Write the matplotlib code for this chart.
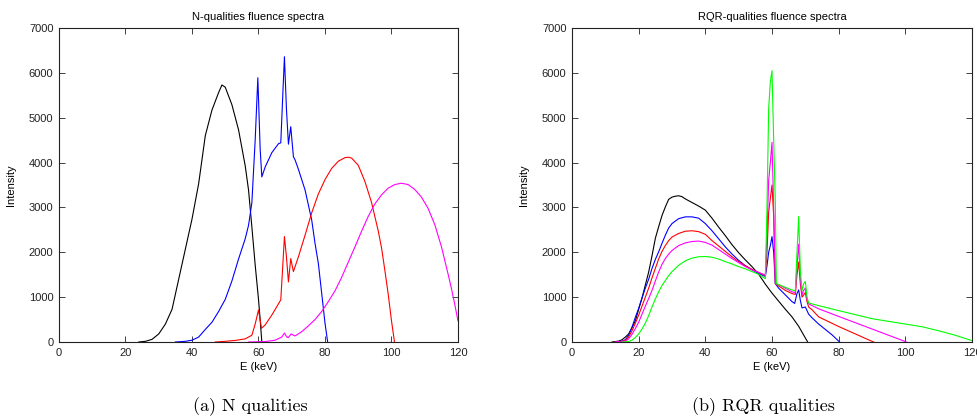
import matplotlib
matplotlib.use("Agg")
import matplotlib.pyplot as plt
from matplotlib.ticker import MultipleLocator

# ---------------- N qualities (left) ----------------
n60_E = [24, 26, 28, 30, 32, 34, 36, 38, 40, 42, 44, 46, 48, 49, 50, 52, 54, 56, 57, 58, 59, 60, 60.5, 61]
n60_I = [0, 15, 60, 180, 400, 730, 1400, 2070, 2740, 3530, 4600, 5170, 5560, 5730, 5680, 5290, 4730, 3930,
         3390, 2570, 1720, 950, 500, 0]

n80_E = [35, 38, 40, 42, 44, 46, 48, 50, 52, 54, 56, 57, 58, 59, 59.8, 60.5, 61, 62, 64, 66, 66.7, 67.3, 67.8,
         68.4, 69, 69.7, 70.5, 71, 72, 74, 76, 77, 78, 79, 80, 80.8]
n80_I = [0, 15, 40, 110, 280, 440, 680, 950, 1360, 1850, 2300, 2600, 3100, 4500, 5890, 4300, 3680, 3900, 4220,
         4420, 4440, 5500, 6360, 5200, 4410, 4800, 4130, 4060, 3850, 3390, 2720, 2200, 1750, 1090, 420, 0]

n100_E = [47, 50, 53, 56, 58, 59, 60, 60.9, 62, 64, 66, 66.7, 67.3, 67.8, 68.4, 69, 69.7, 70.5, 72, 74, 76, 78,
          80, 82, 84, 86, 87, 88, 90, 92, 94, 96, 97, 98, 99, 100, 100.9]
n100_I = [0, 15, 35, 70, 150, 400, 715, 305, 380, 600, 850, 940, 1700, 2350, 1900, 1340, 1860, 1570, 1900,
          2380, 2880, 3300, 3620, 3870, 4030, 4110, 4120, 4100, 3940, 3580, 3110, 2480, 2100, 1600, 1070, 470, 0]

n120_E = [57, 62, 65, 67, 67.8, 68.5, 69, 69.8, 71, 73, 75, 77, 79, 81, 83, 85, 87, 89, 91, 93, 95, 97, 99, 101,
          103, 105, 107, 109, 111, 113, 115, 117, 118, 119, 120]
n120_I = [0, 10, 40, 110, 200, 110, 100, 180, 135, 230, 360, 500, 680, 900, 1140, 1440, 1780, 2120, 2470, 2800,
          3080, 3280, 3430, 3510, 3540, 3510, 3400, 3230, 2980, 2620, 2130, 1520, 1200, 850, 470]

# ---------------- RQR qualities (right) ----------------
rqr_k_E = [12, 14, 15, 16, 17, 18, 19, 20, 21, 22, 23, 24, 25, 26, 27, 28, 29, 30, 31, 32, 33, 34, 36, 38, 40,
           42, 44, 46, 48, 50, 52, 54, 56, 58, 60, 62, 64, 66, 68, 70, 70.7]
rqr_k_I = [0, 20, 50, 110, 180, 320, 470, 730, 980, 1270, 1560, 1920, 2310, 2570, 2820, 3010, 3180, 3230, 3250,
           3260, 3240, 3190, 3110, 3030, 2940, 2760, 2560, 2370, 2170, 1990, 1830, 1680, 1510, 1290, 1090, 910,
           730, 560, 350, 90, 0]

rqr_b_E = [13, 15, 16, 17, 18, 19, 20, 21, 22, 23, 24, 25, 26, 27, 28, 29, 30, 32, 34, 36, 38, 40, 42, 44, 46,
           48, 50, 52, 54, 56, 58, 58.5, 59, 59.5, 60, 60.5, 61, 62, 64, 66, 66.8, 67.5, 68, 68.5, 69, 70, 71,
           72, 74, 76, 78, 80, 80.3]
rqr_b_I = [0, 20, 50, 150, 330, 550, 750, 980, 1200, 1400, 1640, 1840, 2010, 2200, 2380, 2540, 2640, 2750, 2790,
           2790, 2760, 2640, 2480, 2300, 2120, 1960, 1820, 1700, 1610, 1530, 1460, 1700, 2000, 2150, 2350, 2000,
           1300, 1200, 1050, 900, 860, 1080, 1160, 930, 760, 780, 620, 540, 400, 280, 160, 20, 0]

rqr_r_E = [13, 15, 16, 17, 18, 19, 20, 21, 22, 23, 24, 25, 26, 27, 28, 29, 30, 32, 34, 36, 38, 40, 42, 44, 46,
           48, 50, 52, 54, 56, 58, 58.5, 59, 59.5, 60, 60.5, 61, 62, 64, 66, 67, 67.5, 68, 68.5, 69, 69.5, 70,
           70.5, 71, 72, 74, 80, 85, 90, 90.5]
rqr_r_I = [0, 15, 40, 110, 250, 420, 600, 800, 1000, 1200, 1430, 1640, 1850, 2020, 2150, 2260, 2340, 2420, 2470,
           2480, 2460, 2400, 2260, 2140, 2020, 1900, 1790, 1700, 1620, 1550, 1480, 2000, 2900, 3200, 3500, 2800,
           1300, 1250, 1150, 1080, 1060, 1500, 1780, 1300, 1000, 1050, 1100, 900, 780, 720, 560, 345, 180, 15, 0]

rqr_m_E = [13, 16, 17, 18, 19, 20, 21, 22, 23, 24, 25, 26, 27, 28, 29, 30, 32, 34, 36, 38, 40, 42, 44, 46, 48,
           50, 52, 54, 56, 58, 58.5, 59, 59.5, 60, 60.5, 61, 62, 64, 66, 67, 67.5, 68, 68.5, 69, 69.5, 70, 70.5,
           71, 74, 80, 90, 100, 100.3]
rqr_m_I = [0, 20, 70, 170, 300, 440, 620, 800, 970, 1150, 1360, 1560, 1730, 1860, 1960, 2040, 2150, 2210, 2240,
           2250, 2220, 2160, 2060, 1960, 1860, 1770, 1680, 1610, 1550, 1490, 2400, 3600, 4000, 4450, 3000, 1300,
           1280, 1200, 1120, 1100, 1700, 2180, 1400, 1050, 1150, 1200, 950, 850, 740, 570, 290, 10, 0]

rqr_g_E = [15, 17, 18, 19, 20, 21, 22, 23, 24, 25, 26, 27, 28, 29, 30, 32, 34, 36, 38, 40, 42, 44, 46, 48, 50,
           52, 54, 56, 58, 58.5, 59, 59.5, 60, 60.5, 61, 61.3, 62, 64, 66, 67, 67.5, 68, 68.5, 69, 69.5, 70, 70.5,
           71, 74, 80, 90, 100, 105, 110, 115, 120]
rqr_g_I = [0, 10, 40, 100, 180, 290, 420, 590, 780, 960, 1120, 1260, 1370, 1480, 1570, 1710, 1810, 1870, 1900,
           1905, 1890, 1850, 1790, 1740, 1680, 1630, 1570, 1510, 1410, 3000, 5200, 5800, 6050, 4500, 3100, 1300,
           1280, 1220, 1160, 1140, 2000, 2800, 1600, 1150, 1300, 1350, 1000, 870, 810, 700, 520, 400, 340, 250,
           150, 30]

x_ticks = [0, 20, 40, 60, 80, 100, 120]
titles = ["N-qualities fluence spectra", "RQR-qualities fluence spectra"]
captions = ["(a) N qualities", "(b) RQR qualities"]

GREEN = "#00ff00"
MAGENTA = "#ff00ff"

fig = plt.figure(figsize=(9.78, 4.18), dpi=100)
W, H = 978, 418


def make_ax(x0, x1):
    ax = fig.add_axes([x0 / W, 1 - 342 / H, (x1 - x0) / W, 314 / H])
    ax.set_xlim(0, 120)
    ax.set_ylim(0, 7000)
    ax.set_xticks(x_ticks)
    ax.yaxis.set_major_locator(MultipleLocator(1000))
    ax.tick_params(direction="in", top=True, right=True, length=4, width=0.6,
                   labelsize=8, pad=4, colors="#222222")
    for s in ax.spines.values():
        s.set_linewidth(0.8)
        s.set_color("#222222")
    for lab in ax.get_xticklabels() + ax.get_yticklabels():
        lab.set_family("Liberation Sans")
    ax.set_xlabel("E (keV)", fontsize=8, family="Liberation Sans", labelpad=3)
    ax.set_ylabel("Intensity", fontsize=8, family="Liberation Sans")
    ax.yaxis.set_label_coords(-0.107, 0.5)
    return ax


axL = make_ax(59, 458)
axR = make_ax(572, 972)

lw = 0.8
axL.plot(n60_E, n60_I, color="k", lw=lw)
axL.plot(n80_E, n80_I, color="b", lw=lw)
axL.plot(n100_E, n100_I, color="r", lw=lw)
axL.plot(n120_E, n120_I, color=MAGENTA, lw=lw)

axR.plot(rqr_k_E, rqr_k_I, color="k", lw=lw)
axR.plot(rqr_b_E, rqr_b_I, color="b", lw=lw)
axR.plot(rqr_r_E, rqr_r_I, color="r", lw=lw)
axR.plot(rqr_m_E, rqr_m_I, color=MAGENTA, lw=lw)
axR.plot(rqr_g_E, rqr_g_I, color=GREEN, lw=lw)

for ax, t in zip([axL, axR], titles):
    ax.set_title(t, fontsize=8, family="Liberation Sans", pad=6)

fig.text(250 / W, 1 - 407 / H, captions[0], ha="center", va="center", fontsize=13, family="cmr10")
fig.text(763 / W, 1 - 407 / H, captions[1], ha="center", va="center", fontsize=13, family="cmr10")

fig.savefig("out.png", dpi=100)
